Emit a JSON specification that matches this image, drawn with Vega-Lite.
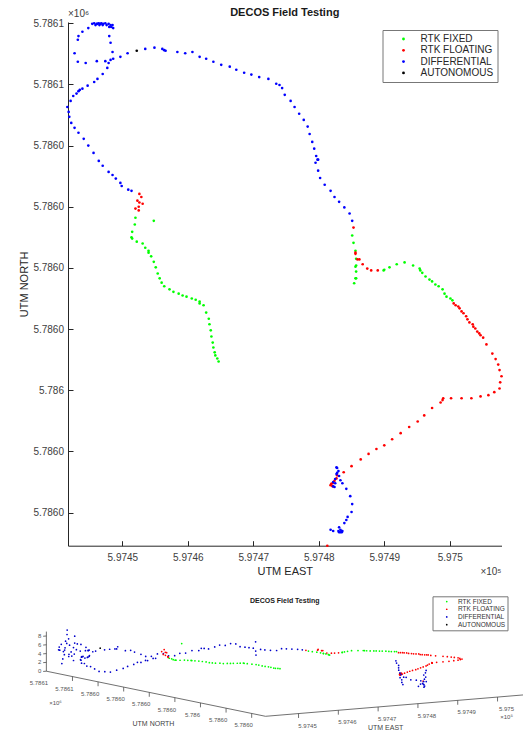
{
  "$schema": "https://vega.github.io/schema/vega-lite/v6.json",
  "background": "white",
  "padding": {"left": 18, "top": 7, "right": 0, "bottom": 0},
  "bounds": "flush",
  "spacing": 58.3,
  "config": {
    "font": "Liberation Sans",
    "view": {"stroke": null},
    "axis": {"grid": false}
  },
  "resolve": {"scale": {"color": "independent"}, "legend": {"color": "independent"}},
  "datasets": {
    "pts": [
      {"e":597445.4,"n":5786059.9,"z":1.5,"f":"DIFFERENTIAL"},
      {"e":597445.7,"n":5786060.0,"z":2.5,"f":"DIFFERENTIAL"},
      {"e":597445.9,"n":5786059.7,"z":3.5,"f":"DIFFERENTIAL"},
      {"e":597446.2,"n":5786059.9,"z":5,"f":"DIFFERENTIAL"},
      {"e":597446.4,"n":5786060.0,"z":6.5,"f":"DIFFERENTIAL"},
      {"e":597446.7,"n":5786059.9,"z":8,"f":"DIFFERENTIAL"},
      {"e":597446.8,"n":5786060.0,"z":9,"f":"DIFFERENTIAL"},
      {"e":597447.1,"n":5786059.9,"z":7,"f":"DIFFERENTIAL"},
      {"e":597447.4,"n":5786060.0,"z":5.5,"f":"DIFFERENTIAL"},
      {"e":597447.6,"n":5786059.7,"z":4,"f":"DIFFERENTIAL"},
      {"e":597447.9,"n":5786059.9,"z":3,"f":"DIFFERENTIAL"},
      {"e":597448.2,"n":5786059.7,"z":2,"f":"DIFFERENTIAL"},
      {"e":597448.0,"n":5786059.4,"z":5,"f":"DIFFERENTIAL"},
      {"e":597448.3,"n":5786059.4,"z":6,"f":"DIFFERENTIAL"},
      {"e":597448.6,"n":5786059.2,"z":4.5,"f":"DIFFERENTIAL"},
      {"e":597448.5,"n":5786059.7,"z":7.5,"f":"DIFFERENTIAL"},
      {"e":597446.1,"n":5786059.9,"z":4.5,"f":"DIFFERENTIAL"},
      {"e":597446.5,"n":5786059.7,"z":6,"f":"DIFFERENTIAL"},
      {"e":597447.0,"n":5786059.7,"z":3,"f":"DIFFERENTIAL"},
      {"e":597444.8,"n":5786059.2,"z":6,"f":"DIFFERENTIAL"},
      {"e":597443.9,"n":5786058.6,"z":5.5,"f":"DIFFERENTIAL"},
      {"e":597443.3,"n":5786057.9,"z":5,"f":"DIFFERENTIAL"},
      {"e":597443.2,"n":5786057.3,"z":5,"f":"DIFFERENTIAL"},
      {"e":597442.7,"n":5786055.1,"z":5,"f":"DIFFERENTIAL"},
      {"e":597443.2,"n":5786053.7,"z":4.5,"f":"DIFFERENTIAL"},
      {"e":597444.4,"n":5786053.5,"z":4.5,"f":"DIFFERENTIAL"},
      {"e":597446.1,"n":5786053.8,"z":5,"f":"DIFFERENTIAL"},
      {"e":597447.4,"n":5786053.8,"z":5,"f":"DIFFERENTIAL"},
      {"e":597447.9,"n":5786053.5,"z":5,"f":"DIFFERENTIAL"},
      {"e":597448.0,"n":5786057.9,"z":6,"f":"DIFFERENTIAL"},
      {"e":597448.2,"n":5786056.8,"z":6,"f":"DIFFERENTIAL"},
      {"e":597448.5,"n":5786055.3,"z":5.5,"f":"DIFFERENTIAL"},
      {"e":597448.2,"n":5786054.0,"z":5,"f":"DIFFERENTIAL"},
      {"e":597448.6,"n":5786054.2,"z":5,"f":"DIFFERENTIAL"},
      {"e":597449.7,"n":5786054.5,"z":4.5,"f":"DIFFERENTIAL"},
      {"e":597450.8,"n":5786055.1,"z":4.5,"f":"DIFFERENTIAL"},
      {"e":597452.2,"n":5786055.5,"z":5,"f":"AUTONOMOUS"},
      {"e":597453.5,"n":5786055.8,"z":4.5,"f":"DIFFERENTIAL"},
      {"e":597454.9,"n":5786056.0,"z":4.5,"f":"DIFFERENTIAL"},
      {"e":597456.1,"n":5786055.8,"z":4.5,"f":"DIFFERENTIAL"},
      {"e":597456.4,"n":5786055.6,"z":4.5,"f":"DIFFERENTIAL"},
      {"e":597456.6,"n":5786055.5,"z":5,"f":"DIFFERENTIAL"},
      {"e":597458.4,"n":5786055.3,"z":4,"f":"DIFFERENTIAL"},
      {"e":597459.6,"n":5786055.1,"z":4,"f":"DIFFERENTIAL"},
      {"e":597460.7,"n":5786055.3,"z":3.5,"f":"DIFFERENTIAL"},
      {"e":597461.8,"n":5786054.5,"z":3,"f":"DIFFERENTIAL"},
      {"e":597462.8,"n":5786054.2,"z":2.5,"f":"DIFFERENTIAL"},
      {"e":597463.9,"n":5786053.7,"z":2.5,"f":"DIFFERENTIAL"},
      {"e":597465.1,"n":5786053.2,"z":3,"f":"DIFFERENTIAL"},
      {"e":597466.4,"n":5786052.9,"z":3,"f":"DIFFERENTIAL"},
      {"e":597467.4,"n":5786052.4,"z":2.5,"f":"DIFFERENTIAL"},
      {"e":597468.6,"n":5786051.9,"z":2.5,"f":"DIFFERENTIAL"},
      {"e":597469.7,"n":5786051.6,"z":3,"f":"DIFFERENTIAL"},
      {"e":597470.9,"n":5786051.2,"z":3,"f":"DIFFERENTIAL"},
      {"e":597472.3,"n":5786050.9,"z":3.5,"f":"DIFFERENTIAL"},
      {"e":597473.5,"n":5786050.1,"z":3.5,"f":"DIFFERENTIAL"},
      {"e":597474.0,"n":5786049.9,"z":4,"f":"DIFFERENTIAL"},
      {"e":597474.4,"n":5786049.4,"z":4,"f":"DIFFERENTIAL"},
      {"e":597474.8,"n":5786048.3,"z":4,"f":"DIFFERENTIAL"},
      {"e":597475.7,"n":5786047.3,"z":4.5,"f":"DIFFERENTIAL"},
      {"e":597476.3,"n":5786046.3,"z":5,"f":"DIFFERENTIAL"},
      {"e":597477.0,"n":5786045.2,"z":5,"f":"DIFFERENTIAL"},
      {"e":597477.7,"n":5786044.2,"z":5.5,"f":"DIFFERENTIAL"},
      {"e":597478.3,"n":5786043.1,"z":5.5,"f":"DIFFERENTIAL"},
      {"e":597478.6,"n":5786041.9,"z":5,"f":"DIFFERENTIAL"},
      {"e":597479.0,"n":5786040.6,"z":5,"f":"DIFFERENTIAL"},
      {"e":597479.3,"n":5786039.5,"z":5,"f":"DIFFERENTIAL"},
      {"e":597479.6,"n":5786038.3,"z":5,"f":"DIFFERENTIAL"},
      {"e":597479.8,"n":5786037.7,"z":6.5,"f":"DIFFERENTIAL"},
      {"e":597479.5,"n":5786037.2,"z":4.5,"f":"DIFFERENTIAL"},
      {"e":597479.9,"n":5786037.7,"z":3.5,"f":"DIFFERENTIAL"},
      {"e":597479.9,"n":5786035.9,"z":5,"f":"DIFFERENTIAL"},
      {"e":597480.2,"n":5786034.7,"z":5,"f":"DIFFERENTIAL"},
      {"e":597480.9,"n":5786033.6,"z":5,"f":"DIFFERENTIAL"},
      {"e":597481.8,"n":5786032.6,"z":5,"f":"DIFFERENTIAL"},
      {"e":597482.4,"n":5786031.6,"z":5.5,"f":"DIFFERENTIAL"},
      {"e":597483.1,"n":5786030.8,"z":5.5,"f":"DIFFERENTIAL"},
      {"e":597483.9,"n":5786029.9,"z":5.5,"f":"DIFFERENTIAL"},
      {"e":597484.7,"n":5786028.9,"z":5.5,"f":"DIFFERENTIAL"},
      {"e":597485.1,"n":5786027.7,"z":5.5,"f":"DIFFERENTIAL"},
      {"e":597447.7,"n":5786052.7,"z":4,"f":"DIFFERENTIAL"},
      {"e":597447.0,"n":5786051.7,"z":4,"f":"DIFFERENTIAL"},
      {"e":597446.2,"n":5786050.9,"z":4,"f":"DIFFERENTIAL"},
      {"e":597445.7,"n":5786050.4,"z":4,"f":"DIFFERENTIAL"},
      {"e":597444.7,"n":5786049.8,"z":4,"f":"DIFFERENTIAL"},
      {"e":597443.9,"n":5786049.3,"z":4.5,"f":"DIFFERENTIAL"},
      {"e":597443.5,"n":5786049.1,"z":4.5,"f":"DIFFERENTIAL"},
      {"e":597443.3,"n":5786048.9,"z":4.5,"f":"DIFFERENTIAL"},
      {"e":597443.0,"n":5786048.5,"z":4.5,"f":"DIFFERENTIAL"},
      {"e":597442.5,"n":5786048.1,"z":4,"f":"DIFFERENTIAL"},
      {"e":597442.1,"n":5786047.3,"z":4,"f":"DIFFERENTIAL"},
      {"e":597441.6,"n":5786046.3,"z":3.5,"f":"DIFFERENTIAL"},
      {"e":597441.8,"n":5786045.5,"z":3.5,"f":"DIFFERENTIAL"},
      {"e":597441.9,"n":5786044.7,"z":3,"f":"DIFFERENTIAL"},
      {"e":597442.2,"n":5786043.7,"z":3,"f":"DIFFERENTIAL"},
      {"e":597442.7,"n":5786042.9,"z":2.5,"f":"DIFFERENTIAL"},
      {"e":597443.3,"n":5786042.1,"z":2,"f":"DIFFERENTIAL"},
      {"e":597444.1,"n":5786041.1,"z":2,"f":"DIFFERENTIAL"},
      {"e":597444.8,"n":5786040.0,"z":2,"f":"DIFFERENTIAL"},
      {"e":597445.6,"n":5786038.8,"z":2.5,"f":"DIFFERENTIAL"},
      {"e":597446.4,"n":5786037.5,"z":3,"f":"DIFFERENTIAL"},
      {"e":597447.0,"n":5786036.7,"z":3.5,"f":"DIFFERENTIAL"},
      {"e":597447.9,"n":5786035.7,"z":4,"f":"DIFFERENTIAL"},
      {"e":597448.5,"n":5786035.2,"z":4.5,"f":"DIFFERENTIAL"},
      {"e":597449.0,"n":5786034.6,"z":4.5,"f":"DIFFERENTIAL"},
      {"e":597449.7,"n":5786033.9,"z":5,"f":"DIFFERENTIAL"},
      {"e":597449.9,"n":5786033.4,"z":5,"f":"DIFFERENTIAL"},
      {"e":597450.9,"n":5786032.8,"z":5.5,"f":"DIFFERENTIAL"},
      {"e":597451.4,"n":5786032.6,"z":5.5,"f":"DIFFERENTIAL"},
      {"e":597452.6,"n":5786032.1,"z":7,"f":"RTK FLOATING"},
      {"e":597452.9,"n":5786031.6,"z":7.5,"f":"RTK FLOATING"},
      {"e":597452.3,"n":5786031.0,"z":6.5,"f":"RTK FLOATING"},
      {"e":597452.6,"n":5786030.7,"z":7,"f":"RTK FLOATING"},
      {"e":597453.1,"n":5786030.5,"z":6,"f":"RTK FLOATING"},
      {"e":597452.5,"n":5786030.0,"z":7,"f":"RTK FLOATING"},
      {"e":597452.0,"n":5786029.7,"z":6.5,"f":"RTK FLOATING"},
      {"e":597452.5,"n":5786029.4,"z":6,"f":"RTK FLOATING"},
      {"e":597452.0,"n":5786028.2,"z":6,"f":"RTK FIXED"},
      {"e":597451.9,"n":5786027.1,"z":6,"f":"RTK FIXED"},
      {"e":597451.5,"n":5786025.9,"z":6,"f":"RTK FIXED"},
      {"e":597451.4,"n":5786025.0,"z":6,"f":"RTK FIXED"},
      {"e":597451.5,"n":5786024.8,"z":6,"f":"RTK FIXED"},
      {"e":597452.2,"n":5786024.3,"z":6,"f":"RTK FIXED"},
      {"e":597453.1,"n":5786024.0,"z":6,"f":"RTK FIXED"},
      {"e":597453.5,"n":5786023.3,"z":6,"f":"RTK FIXED"},
      {"e":597454.0,"n":5786022.8,"z":6,"f":"RTK FIXED"},
      {"e":597454.0,"n":5786022.5,"z":6,"f":"RTK FIXED"},
      {"e":597454.4,"n":5786021.9,"z":6,"f":"RTK FIXED"},
      {"e":597454.8,"n":5786021.0,"z":6,"f":"RTK FIXED"},
      {"e":597455.1,"n":5786020.1,"z":6,"f":"RTK FIXED"},
      {"e":597455.4,"n":5786019.1,"z":6,"f":"RTK FIXED"},
      {"e":597455.7,"n":5786018.3,"z":5.9,"f":"RTK FIXED"},
      {"e":597456.0,"n":5786017.6,"z":5.9,"f":"RTK FIXED"},
      {"e":597456.4,"n":5786017.0,"z":5.9,"f":"RTK FIXED"},
      {"e":597457.2,"n":5786016.5,"z":5.9,"f":"RTK FIXED"},
      {"e":597457.8,"n":5786016.1,"z":5.8,"f":"RTK FIXED"},
      {"e":597458.6,"n":5786015.8,"z":5.8,"f":"RTK FIXED"},
      {"e":597459.2,"n":5786015.5,"z":5.8,"f":"RTK FIXED"},
      {"e":597459.8,"n":5786015.3,"z":5.8,"f":"RTK FIXED"},
      {"e":597460.6,"n":5786015.0,"z":5.8,"f":"RTK FIXED"},
      {"e":597461.2,"n":5786014.8,"z":5.8,"f":"RTK FIXED"},
      {"e":597461.8,"n":5786014.5,"z":5.8,"f":"RTK FIXED"},
      {"e":597461.8,"n":5786014.2,"z":5.8,"f":"RTK FIXED"},
      {"e":597462.4,"n":5786013.9,"z":5.7,"f":"RTK FIXED"},
      {"e":597462.8,"n":5786012.7,"z":5.7,"f":"RTK FIXED"},
      {"e":597463.2,"n":5786011.7,"z":5.7,"f":"RTK FIXED"},
      {"e":597463.3,"n":5786010.8,"z":5.7,"f":"RTK FIXED"},
      {"e":597463.5,"n":5786009.8,"z":5.6,"f":"RTK FIXED"},
      {"e":597463.6,"n":5786008.8,"z":5.6,"f":"RTK FIXED"},
      {"e":597463.8,"n":5786007.8,"z":5.6,"f":"RTK FIXED"},
      {"e":597463.9,"n":5786007.0,"z":5.6,"f":"RTK FIXED"},
      {"e":597464.1,"n":5786006.2,"z":5.5,"f":"RTK FIXED"},
      {"e":597464.2,"n":5786005.7,"z":5.5,"f":"RTK FIXED"},
      {"e":597464.5,"n":5786005.2,"z":5.5,"f":"RTK FIXED"},
      {"e":597464.7,"n":5786004.7,"z":5.5,"f":"RTK FIXED"},
      {"e":597454.8,"n":5786027.7,"z":9.2,"f":"RTK FIXED"},
      {"e":597485.3,"n":5786026.6,"z":5.5,"f":"RTK FLOATING"},
      {"e":597485.1,"n":5786025.3,"z":5.5,"f":"RTK FIXED"},
      {"e":597485.3,"n":5786024.1,"z":5.5,"f":"RTK FIXED"},
      {"e":597485.6,"n":5786022.8,"z":5.5,"f":"RTK FIXED"},
      {"e":597485.6,"n":5786022.5,"z":6,"f":"RTK FLOATING"},
      {"e":597485.6,"n":5786022.3,"z":6.2,"f":"RTK FLOATING"},
      {"e":597485.7,"n":5786021.5,"z":5.5,"f":"RTK FIXED"},
      {"e":597485.9,"n":5786021.4,"z":6,"f":"RTK FLOATING"},
      {"e":597486.2,"n":5786021.4,"z":6,"f":"RTK FLOATING"},
      {"e":597485.6,"n":5786020.2,"z":5.5,"f":"RTK FIXED"},
      {"e":597485.7,"n":5786020.4,"z":5.5,"f":"RTK FIXED"},
      {"e":597485.7,"n":5786019.4,"z":5.5,"f":"RTK FIXED"},
      {"e":597485.6,"n":5786018.3,"z":5.5,"f":"RTK FIXED"},
      {"e":597485.7,"n":5786018.3,"z":5.5,"f":"RTK FIXED"},
      {"e":597485.4,"n":5786017.5,"z":5.5,"f":"RTK FIXED"},
      {"e":597486.7,"n":5786020.6,"z":5.5,"f":"RTK FLOATING"},
      {"e":597487.4,"n":5786019.9,"z":5.5,"f":"RTK FLOATING"},
      {"e":597488.0,"n":5786019.6,"z":5.5,"f":"RTK FLOATING"},
      {"e":597489.0,"n":5786019.6,"z":5.5,"f":"RTK FLOATING"},
      {"e":597489.9,"n":5786019.6,"z":5.5,"f":"RTK FIXED"},
      {"e":597490.0,"n":5786019.7,"z":5.5,"f":"RTK FIXED"},
      {"e":597490.8,"n":5786020.1,"z":5.5,"f":"RTK FIXED"},
      {"e":597491.9,"n":5786020.6,"z":5.5,"f":"RTK FIXED"},
      {"e":597493.1,"n":5786020.9,"z":5.5,"f":"RTK FIXED"},
      {"e":597494.4,"n":5786020.4,"z":5.5,"f":"RTK FIXED"},
      {"e":597495.4,"n":5786019.9,"z":5.5,"f":"RTK FIXED"},
      {"e":597495.5,"n":5786019.6,"z":5.5,"f":"RTK FIXED"},
      {"e":597495.8,"n":5786019.2,"z":5.5,"f":"RTK FIXED"},
      {"e":597496.3,"n":5786018.6,"z":5.5,"f":"RTK FIXED"},
      {"e":597496.9,"n":5786018.1,"z":5.5,"f":"RTK FIXED"},
      {"e":597497.3,"n":5786017.8,"z":5.5,"f":"RTK FIXED"},
      {"e":597497.8,"n":5786017.3,"z":5.5,"f":"RTK FIXED"},
      {"e":597498.3,"n":5786017.0,"z":5.5,"f":"RTK FIXED"},
      {"e":597498.9,"n":5786016.5,"z":5.5,"f":"RTK FIXED"},
      {"e":597499.2,"n":5786015.8,"z":5.5,"f":"RTK FIXED"},
      {"e":597499.5,"n":5786015.3,"z":5.5,"f":"RTK FIXED"},
      {"e":597500.1,"n":5786015.0,"z":5.5,"f":"RTK FIXED"},
      {"e":597500.4,"n":5786014.7,"z":5.5,"f":"RTK FIXED"},
      {"e":597500.6,"n":5786014.2,"z":5.3,"f":"RTK FLOATING"},
      {"e":597500.9,"n":5786013.9,"z":5.3,"f":"RTK FLOATING"},
      {"e":597501.3,"n":5786013.7,"z":5.3,"f":"RTK FLOATING"},
      {"e":597501.5,"n":5786013.4,"z":5.3,"f":"RTK FLOATING"},
      {"e":597501.8,"n":5786012.9,"z":5.3,"f":"RTK FLOATING"},
      {"e":597502.1,"n":5786012.6,"z":5.2,"f":"RTK FLOATING"},
      {"e":597502.5,"n":5786012.1,"z":5.2,"f":"RTK FLOATING"},
      {"e":597502.7,"n":5786011.6,"z":5.2,"f":"RTK FLOATING"},
      {"e":597503.0,"n":5786011.1,"z":5.2,"f":"RTK FLOATING"},
      {"e":597503.5,"n":5786010.8,"z":5.2,"f":"RTK FLOATING"},
      {"e":597503.6,"n":5786010.4,"z":5.1,"f":"RTK FLOATING"},
      {"e":597503.9,"n":5786010.1,"z":5.1,"f":"RTK FLOATING"},
      {"e":597504.2,"n":5786009.6,"z":5.1,"f":"RTK FLOATING"},
      {"e":597504.5,"n":5786009.3,"z":5.1,"f":"RTK FLOATING"},
      {"e":597504.7,"n":5786009.0,"z":5.1,"f":"RTK FLOATING"},
      {"e":597505.1,"n":5786008.6,"z":5,"f":"RTK FLOATING"},
      {"e":597505.6,"n":5786007.5,"z":5,"f":"RTK FLOATING"},
      {"e":597506.5,"n":5786006.0,"z":5,"f":"RTK FLOATING"},
      {"e":597507.0,"n":5786005.1,"z":5,"f":"RTK FLOATING"},
      {"e":597507.4,"n":5786004.2,"z":5,"f":"RTK FLOATING"},
      {"e":597507.6,"n":5786003.3,"z":5,"f":"RTK FLOATING"},
      {"e":597507.9,"n":5786002.3,"z":5,"f":"RTK FLOATING"},
      {"e":597507.7,"n":5786001.3,"z":5,"f":"RTK FLOATING"},
      {"e":597507.6,"n":5786000.3,"z":5,"f":"RTK FLOATING"},
      {"e":597506.8,"n":5785999.7,"z":5,"f":"RTK FLOATING"},
      {"e":597505.9,"n":5785999.2,"z":5,"f":"RTK FLOATING"},
      {"e":597504.7,"n":5785999.0,"z":5,"f":"RTK FLOATING"},
      {"e":597503.3,"n":5785998.7,"z":5,"f":"RTK FLOATING"},
      {"e":597501.8,"n":5785998.7,"z":5,"f":"RTK FLOATING"},
      {"e":597500.2,"n":5785998.7,"z":5,"f":"RTK FLOATING"},
      {"e":597499.0,"n":5785998.7,"z":5,"f":"RTK FLOATING"},
      {"e":597498.9,"n":5785998.4,"z":5,"f":"RTK FLOATING"},
      {"e":597498.6,"n":5785998.0,"z":5,"f":"RTK FLOATING"},
      {"e":597497.3,"n":5785997.1,"z":5,"f":"RTK FLOATING"},
      {"e":597496.1,"n":5785995.9,"z":5,"f":"RTK FLOATING"},
      {"e":597495.1,"n":5785994.9,"z":5,"f":"RTK FLOATING"},
      {"e":597493.8,"n":5785994.0,"z":5,"f":"RTK FLOATING"},
      {"e":597492.5,"n":5785993.0,"z":5,"f":"RTK FLOATING"},
      {"e":597491.2,"n":5785992.0,"z":5,"f":"RTK FLOATING"},
      {"e":597490.0,"n":5785991.0,"z":5,"f":"RTK FLOATING"},
      {"e":597488.8,"n":5785990.4,"z":5,"f":"RTK FLOATING"},
      {"e":597487.6,"n":5785989.6,"z":5,"f":"RTK FLOATING"},
      {"e":597486.4,"n":5785988.7,"z":5,"f":"RTK FLOATING"},
      {"e":597485.0,"n":5785987.6,"z":5,"f":"RTK FLOATING"},
      {"e":597483.8,"n":5785986.6,"z":5,"f":"RTK FLOATING"},
      {"e":597482.8,"n":5785986.1,"z":5,"f":"RTK FLOATING"},
      {"e":597482.7,"n":5785985.6,"z":5.2,"f":"RTK FLOATING"},
      {"e":597482.4,"n":5785985.2,"z":5.4,"f":"RTK FLOATING"},
      {"e":597481.9,"n":5785984.7,"z":5.3,"f":"RTK FLOATING"},
      {"e":597481.8,"n":5785984.5,"z":5.5,"f":"RTK FLOATING"},
      {"e":597482.1,"n":5785984.8,"z":5.1,"f":"RTK FLOATING"},
      {"e":597482.1,"n":5785984.3,"z":5.6,"f":"RTK FLOATING"},
      {"e":597481.3,"n":5785974.6,"z":5,"f":"RTK FLOATING"},
      {"e":597482.7,"n":5785987.4,"z":8,"f":"DIFFERENTIAL"},
      {"e":597482.8,"n":5785987.3,"z":7.5,"f":"DIFFERENTIAL"},
      {"e":597483.0,"n":5785986.8,"z":7,"f":"DIFFERENTIAL"},
      {"e":597482.8,"n":5785986.5,"z":6.5,"f":"DIFFERENTIAL"},
      {"e":597482.7,"n":5785986.3,"z":6,"f":"DIFFERENTIAL"},
      {"e":597483.1,"n":5785986.0,"z":5,"f":"DIFFERENTIAL"},
      {"e":597482.5,"n":5785985.5,"z":5.5,"f":"DIFFERENTIAL"},
      {"e":597483.3,"n":5785985.3,"z":4.5,"f":"DIFFERENTIAL"},
      {"e":597482.2,"n":5785985.0,"z":4.5,"f":"DIFFERENTIAL"},
      {"e":597482.5,"n":5785984.8,"z":4,"f":"DIFFERENTIAL"},
      {"e":597482.2,"n":5785984.3,"z":3.5,"f":"DIFFERENTIAL"},
      {"e":597482.4,"n":5785984.2,"z":3,"f":"DIFFERENTIAL"},
      {"e":597483.6,"n":5785984.8,"z":4.5,"f":"DIFFERENTIAL"},
      {"e":597484.2,"n":5785983.9,"z":4,"f":"DIFFERENTIAL"},
      {"e":597484.8,"n":5785982.7,"z":4,"f":"DIFFERENTIAL"},
      {"e":597485.1,"n":5785981.4,"z":4,"f":"DIFFERENTIAL"},
      {"e":597485.0,"n":5785980.1,"z":4,"f":"DIFFERENTIAL"},
      {"e":597484.4,"n":5785979.3,"z":3.5,"f":"DIFFERENTIAL"},
      {"e":597484.2,"n":5785978.8,"z":3.5,"f":"DIFFERENTIAL"},
      {"e":597483.9,"n":5785978.3,"z":3,"f":"DIFFERENTIAL"},
      {"e":597483.1,"n":5785977.6,"z":4,"f":"DIFFERENTIAL"},
      {"e":597483.3,"n":5785977.2,"z":5,"f":"DIFFERENTIAL"},
      {"e":597483.0,"n":5785977.0,"z":6,"f":"DIFFERENTIAL"},
      {"e":597483.6,"n":5785977.0,"z":7,"f":"DIFFERENTIAL"},
      {"e":597483.3,"n":5785976.8,"z":6.5,"f":"DIFFERENTIAL"},
      {"e":597483.5,"n":5785976.8,"z":4.5,"f":"DIFFERENTIAL"},
      {"e":597483.1,"n":5785976.8,"z":3.5,"f":"DIFFERENTIAL"},
      {"e":597483.5,"n":5785977.0,"z":5.5,"f":"DIFFERENTIAL"},
      {"e":597481.8,"n":5785977.2,"z":3.5,"f":"DIFFERENTIAL"},
      {"e":597482.2,"n":5785977.0,"z":4,"f":"DIFFERENTIAL"}
    ],
    "ax3": [
      {"e1":597441.7,"n1":5786060.2,"z1":0,"e2":597441.7,"n2":5786060.2,"z2":9},
      {"e1":597441.7,"n1":5785974.6,"z1":0,"e2":597441.7,"n2":5786060.2,"z2":0},
      {"e1":597441.7,"n1":5785974.6,"z1":0,"e2":597507.9,"n2":5785974.6,"z2":0},
      {"e1":597441.7,"n1":5785980,"z1":0,"e2":597441.7,"n2":5785980,"z2":-1},
      {"e1":597441.7,"n1":5785990,"z1":0,"e2":597441.7,"n2":5785990,"z2":-1},
      {"e1":597441.7,"n1":5786000,"z1":0,"e2":597441.7,"n2":5786000,"z2":-1},
      {"e1":597441.7,"n1":5786010,"z1":0,"e2":597441.7,"n2":5786010,"z2":-1},
      {"e1":597441.7,"n1":5786020,"z1":0,"e2":597441.7,"n2":5786020,"z2":-1},
      {"e1":597441.7,"n1":5786030,"z1":0,"e2":597441.7,"n2":5786030,"z2":-1},
      {"e1":597441.7,"n1":5786040,"z1":0,"e2":597441.7,"n2":5786040,"z2":-1},
      {"e1":597441.7,"n1":5786050,"z1":0,"e2":597441.7,"n2":5786050,"z2":-1},
      {"e1":597450,"n1":5785974.6,"z1":0,"e2":597450,"n2":5785974.6,"z2":-1},
      {"e1":597460,"n1":5785974.6,"z1":0,"e2":597460,"n2":5785974.6,"z2":-1},
      {"e1":597470,"n1":5785974.6,"z1":0,"e2":597470,"n2":5785974.6,"z2":-1},
      {"e1":597480,"n1":5785974.6,"z1":0,"e2":597480,"n2":5785974.6,"z2":-1},
      {"e1":597490,"n1":5785974.6,"z1":0,"e2":597490,"n2":5785974.6,"z2":-1},
      {"e1":597500,"n1":5785974.6,"z1":0,"e2":597500,"n2":5785974.6,"z2":-1},
      {"e1":597441.7,"n1":5786060.2,"z1":0,"e2":597440.9,"n2":5786060.2,"z2":0},
      {"e1":597441.7,"n1":5786060.2,"z1":2,"e2":597440.9,"n2":5786060.2,"z2":2},
      {"e1":597441.7,"n1":5786060.2,"z1":4,"e2":597440.9,"n2":5786060.2,"z2":4},
      {"e1":597441.7,"n1":5786060.2,"z1":6,"e2":597440.9,"n2":5786060.2,"z2":6},
      {"e1":597441.7,"n1":5786060.2,"z1":8,"e2":597440.9,"n2":5786060.2,"z2":8}
    ]
  },
  "vconcat": [
    {
      "width": 433.5,
      "height": 523.7,
      "title": {"text": "DECOS Field Testing", "fontSize": 11, "fontWeight": "bold", "anchor": "middle", "frame": "group", "offset": 4, "dy": 13, "color": "#1a1a1a"},
      "layer": [
        {
          "data": {"name": "pts"},
          "mark": {"type": "point", "filled": true, "size": 7, "opacity": 1, "shape": "circle"},
          "encoding": {
            "x": {"field": "e", "type": "quantitative",
              "scale": {"domain": [597441.7, 597507.9], "nice": false, "zero": false},
              "axis": {"title": "UTM EAST", "values": [597450, 597460, 597470, 597480, 597490, 597500],
                "labelExpr": "datum.value == 597500 ? '5.975' : format(datum.value/100000, '.4f')",
                "tickSize": -5, "labelPadding": 12, "titlePadding": 3, "labelFontSize": 10, "titleFontSize": 11,
                "titleFontWeight": "normal", "labelColor": "#404040", "titleColor": "#262626",
                "domainColor": "#262626", "tickColor": "#262626", "labelFlush": false}},
            "y": {"field": "n", "type": "quantitative",
              "scale": {"domain": [5785974.6, 5786060.2], "nice": false, "zero": false},
              "axis": {"title": "UTM NORTH", "values": [5785980, 5785990, 5786000, 5786010, 5786020, 5786030, 5786040, 5786050, 5786060],
                "labelExpr": "datum.value >= 5786050 ? '5.7861' : (datum.value == 5786000 ? '5.786' : '5.7860')",
                "tickSize": -5, "labelPadding": 9.5, "titlePadding": 3, "labelFontSize": 10, "titleFontSize": 11,
                "titleFontWeight": "normal", "labelColor": "#404040", "titleColor": "#262626",
                "domainColor": "#262626", "tickColor": "#262626", "labelFlush": false}},
            "color": {"field": "f", "type": "nominal",
              "scale": {"domain": ["RTK FIXED", "RTK FLOATING", "DIFFERENTIAL", "AUTONOMOUS"], "range": ["#00ff00", "#ff0000", "#0000ff", "#000000"]},
              "legend": {"orient": "none", "legendX": 314.5, "legendY": 8, "title": null, "strokeColor": "#777777", "fillColor": "#ffffff",
                "padding": 4, "labelFontSize": 10, "labelColor": "#262626", "symbolSize": 8, "symbolType": "circle",
                "symbolOffset": 12, "labelOffset": 12, "rowPadding": 1.3}}
          }
        },
        {
          "data": {"values": [{"t": "×10⁶"}]},
          "mark": {"type": "text", "align": "left", "baseline": "bottom", "dy": -3, "fontSize": 10, "color": "#404040"},
          "encoding": {"x": {"datum": 597441.7, "type": "quantitative"}, "y": {"datum": 5786060.2, "type": "quantitative"}, "text": {"field": "t"}}
        },
        {
          "data": {"values": [{"t": "×10⁵"}]},
          "mark": {"type": "text", "align": "right", "baseline": "top", "dy": 21, "fontSize": 10, "color": "#404040"},
          "encoding": {"x": {"datum": 597507.9, "type": "quantitative"}, "y": {"datum": 5785974.6, "type": "quantitative"}, "text": {"field": "t"}}
        }
      ]
    },
    {
      "width": 433.5,
      "height": 128,
      "title": {"text": "DECOS Field Testing", "fontSize": 7, "fontWeight": "bold", "anchor": "middle", "frame": "group", "offset": 1, "dy": 9, "color": "#1a1a1a"},
      "layer": [
        {
          "data": {"name": "ax3"},
          "transform": [
            {"calculate": "3.98*(datum.e1-597441.7)-2.56*(datum.n1-5785974.6)", "as": "u1"},
            {"calculate": "0.33*(datum.e1-597441.7)+0.527*(datum.n1-5785974.6)+4.4*datum.z1", "as": "v1"},
            {"calculate": "3.98*(datum.e2-597441.7)-2.56*(datum.n2-5785974.6)", "as": "u2"},
            {"calculate": "0.33*(datum.e2-597441.7)+0.527*(datum.n2-5785974.6)+4.4*datum.z2", "as": "v2"}
          ],
          "mark": {"type": "rule", "color": "#4d4d4d", "strokeWidth": 0.8},
          "encoding": {
            "x": {"field": "u1", "type": "quantitative", "scale": {"domain": [-197.5, 236], "nice": false, "zero": false}, "axis": null},
            "y": {"field": "v1", "type": "quantitative", "scale": {"domain": [-16, 112], "nice": false, "zero": false}, "axis": null},
            "x2": {"field": "u2"},
            "y2": {"field": "v2"}
          }
        },
        {
          "data": {"name": "pts"},
          "transform": [
            {"calculate": "3.98*(datum.e-597441.7)-2.56*(datum.n-5785974.6)", "as": "u"},
            {"calculate": "0.33*(datum.e-597441.7)+0.527*(datum.n-5785974.6)+4.4*datum.z", "as": "v"}
          ],
          "mark": {"type": "point", "filled": true, "size": 3, "opacity": 1, "shape": "circle"},
          "encoding": {
            "x": {"field": "u", "type": "quantitative"},
            "y": {"field": "v", "type": "quantitative"},
            "color": {"field": "f", "type": "nominal",
              "scale": {"domain": ["RTK FIXED", "RTK FLOATING", "DIFFERENTIAL", "AUTONOMOUS"], "range": ["#00ff00", "#ff0000", "#0000cc", "#000000"]},
              "legend": {"orient": "none", "legendX": 364.5, "legendY": -8, "title": null, "strokeColor": "#777777", "fillColor": "#ffffff",
                "padding": 2, "labelFontSize": 6.5, "labelColor": "#333333", "symbolSize": 3, "symbolType": "circle",
                "symbolOffset": 9, "labelOffset": 8, "rowPadding": 0.7}}
          }
        },
        {
          "data": {"values": [
            {"e": 597441.7, "n": 5785980, "z": 0, "t": "5.7860"},
            {"e": 597441.7, "n": 5785990, "z": 0, "t": "5.7860"},
            {"e": 597441.7, "n": 5786000, "z": 0, "t": "5.786"},
            {"e": 597441.7, "n": 5786010, "z": 0, "t": "5.7860"},
            {"e": 597441.7, "n": 5786020, "z": 0, "t": "5.7860"},
            {"e": 597441.7, "n": 5786030, "z": 0, "t": "5.7860"},
            {"e": 597441.7, "n": 5786040, "z": 0, "t": "5.7860"},
            {"e": 597441.7, "n": 5786050, "z": 0, "t": "5.7861"},
            {"e": 597441.7, "n": 5786060, "z": 0, "t": "5.7861"}
          ]},
          "transform": [
            {"calculate": "3.98*(datum.e-597441.7)-2.56*(datum.n-5785974.6)", "as": "u"},
            {"calculate": "0.33*(datum.e-597441.7)+0.527*(datum.n-5785974.6)+4.4*datum.z", "as": "v"}
          ],
          "mark": {"type": "text", "align": "center", "baseline": "middle", "dx": -8, "dy": 12, "fontSize": 6, "color": "#555555"},
          "encoding": {"x": {"field": "u", "type": "quantitative"}, "y": {"field": "v", "type": "quantitative"}, "text": {"field": "t"}}
        },
        {
          "data": {"values": [
            {"e": 597450, "n": 5785974.6, "z": 0, "t": "5.9745"},
            {"e": 597460, "n": 5785974.6, "z": 0, "t": "5.9746"},
            {"e": 597470, "n": 5785974.6, "z": 0, "t": "5.9747"},
            {"e": 597480, "n": 5785974.6, "z": 0, "t": "5.9748"},
            {"e": 597490, "n": 5785974.6, "z": 0, "t": "5.9749"},
            {"e": 597500, "n": 5785974.6, "z": 0, "t": "5.975"}
          ]},
          "transform": [
            {"calculate": "3.98*(datum.e-597441.7)-2.56*(datum.n-5785974.6)", "as": "u"},
            {"calculate": "0.33*(datum.e-597441.7)+0.527*(datum.n-5785974.6)+4.4*datum.z", "as": "v"}
          ],
          "mark": {"type": "text", "align": "center", "baseline": "middle", "dx": 9, "dy": 12, "fontSize": 6, "color": "#555555"},
          "encoding": {"x": {"field": "u", "type": "quantitative"}, "y": {"field": "v", "type": "quantitative"}, "text": {"field": "t"}}
        },
        {
          "data": {"values": [
            {"e": 597441.7, "n": 5786060.2, "z": 0, "t": "0"},
            {"e": 597441.7, "n": 5786060.2, "z": 2, "t": "2"},
            {"e": 597441.7, "n": 5786060.2, "z": 4, "t": "4"},
            {"e": 597441.7, "n": 5786060.2, "z": 6, "t": "6"},
            {"e": 597441.7, "n": 5786060.2, "z": 8, "t": "8"}
          ]},
          "transform": [
            {"calculate": "3.98*(datum.e-597441.7)-2.56*(datum.n-5785974.6)", "as": "u"},
            {"calculate": "0.33*(datum.e-597441.7)+0.527*(datum.n-5785974.6)+4.4*datum.z", "as": "v"}
          ],
          "mark": {"type": "text", "align": "right", "baseline": "middle", "dx": -5, "fontSize": 6, "color": "#555555"},
          "encoding": {"x": {"field": "u", "type": "quantitative"}, "y": {"field": "v", "type": "quantitative"}, "text": {"field": "t"}}
        },
        {
          "data": {"values": [{"e": 597441.7, "n": 5786017, "z": 0, "t": "UTM NORTH"}]},
          "transform": [
            {"calculate": "3.98*(datum.e-597441.7)-2.56*(datum.n-5785974.6)", "as": "u"},
            {"calculate": "0.33*(datum.e-597441.7)+0.527*(datum.n-5785974.6)+4.4*datum.z", "as": "v"}
          ],
          "mark": {"type": "text", "align": "center", "baseline": "middle", "dx": -3.5, "dy": 30, "fontSize": 7, "color": "#444444"},
          "encoding": {"x": {"field": "u", "type": "quantitative"}, "y": {"field": "v", "type": "quantitative"}, "text": {"field": "t"}}
        },
        {
          "data": {"values": [{"e": 597470, "n": 5785974.6, "z": 0, "t": "UTM EAST"}]},
          "transform": [
            {"calculate": "3.98*(datum.e-597441.7)-2.56*(datum.n-5785974.6)", "as": "u"},
            {"calculate": "0.33*(datum.e-597441.7)+0.527*(datum.n-5785974.6)+4.4*datum.z", "as": "v"}
          ],
          "mark": {"type": "text", "align": "center", "baseline": "middle", "dx": 7.5, "dy": 21, "fontSize": 7, "color": "#444444"},
          "encoding": {"x": {"field": "u", "type": "quantitative"}, "y": {"field": "v", "type": "quantitative"}, "text": {"field": "t"}}
        },
        {
          "data": {"values": [{"e": 597441.7, "n": 5786050, "z": 0, "t": "×10⁶"}]},
          "transform": [
            {"calculate": "3.98*(datum.e-597441.7)-2.56*(datum.n-5785974.6)", "as": "u"},
            {"calculate": "0.33*(datum.e-597441.7)+0.527*(datum.n-5785974.6)+4.4*datum.z", "as": "v"}
          ],
          "mark": {"type": "text", "align": "center", "baseline": "middle", "dx": -17, "dy": 26, "fontSize": 6, "color": "#555555"},
          "encoding": {"x": {"field": "u", "type": "quantitative"}, "y": {"field": "v", "type": "quantitative"}, "text": {"field": "t"}}
        },
        {
          "data": {"values": [{"e": 597500, "n": 5785974.6, "z": 0, "t": "×10⁵"}]},
          "transform": [
            {"calculate": "3.98*(datum.e-597441.7)-2.56*(datum.n-5785974.6)", "as": "u"},
            {"calculate": "0.33*(datum.e-597441.7)+0.527*(datum.n-5785974.6)+4.4*datum.z", "as": "v"}
          ],
          "mark": {"type": "text", "align": "center", "baseline": "middle", "dx": 9, "dy": 20, "fontSize": 6, "color": "#555555"},
          "encoding": {"x": {"field": "u", "type": "quantitative"}, "y": {"field": "v", "type": "quantitative"}, "text": {"field": "t"}}
        }
      ]
    }
  ]
}
